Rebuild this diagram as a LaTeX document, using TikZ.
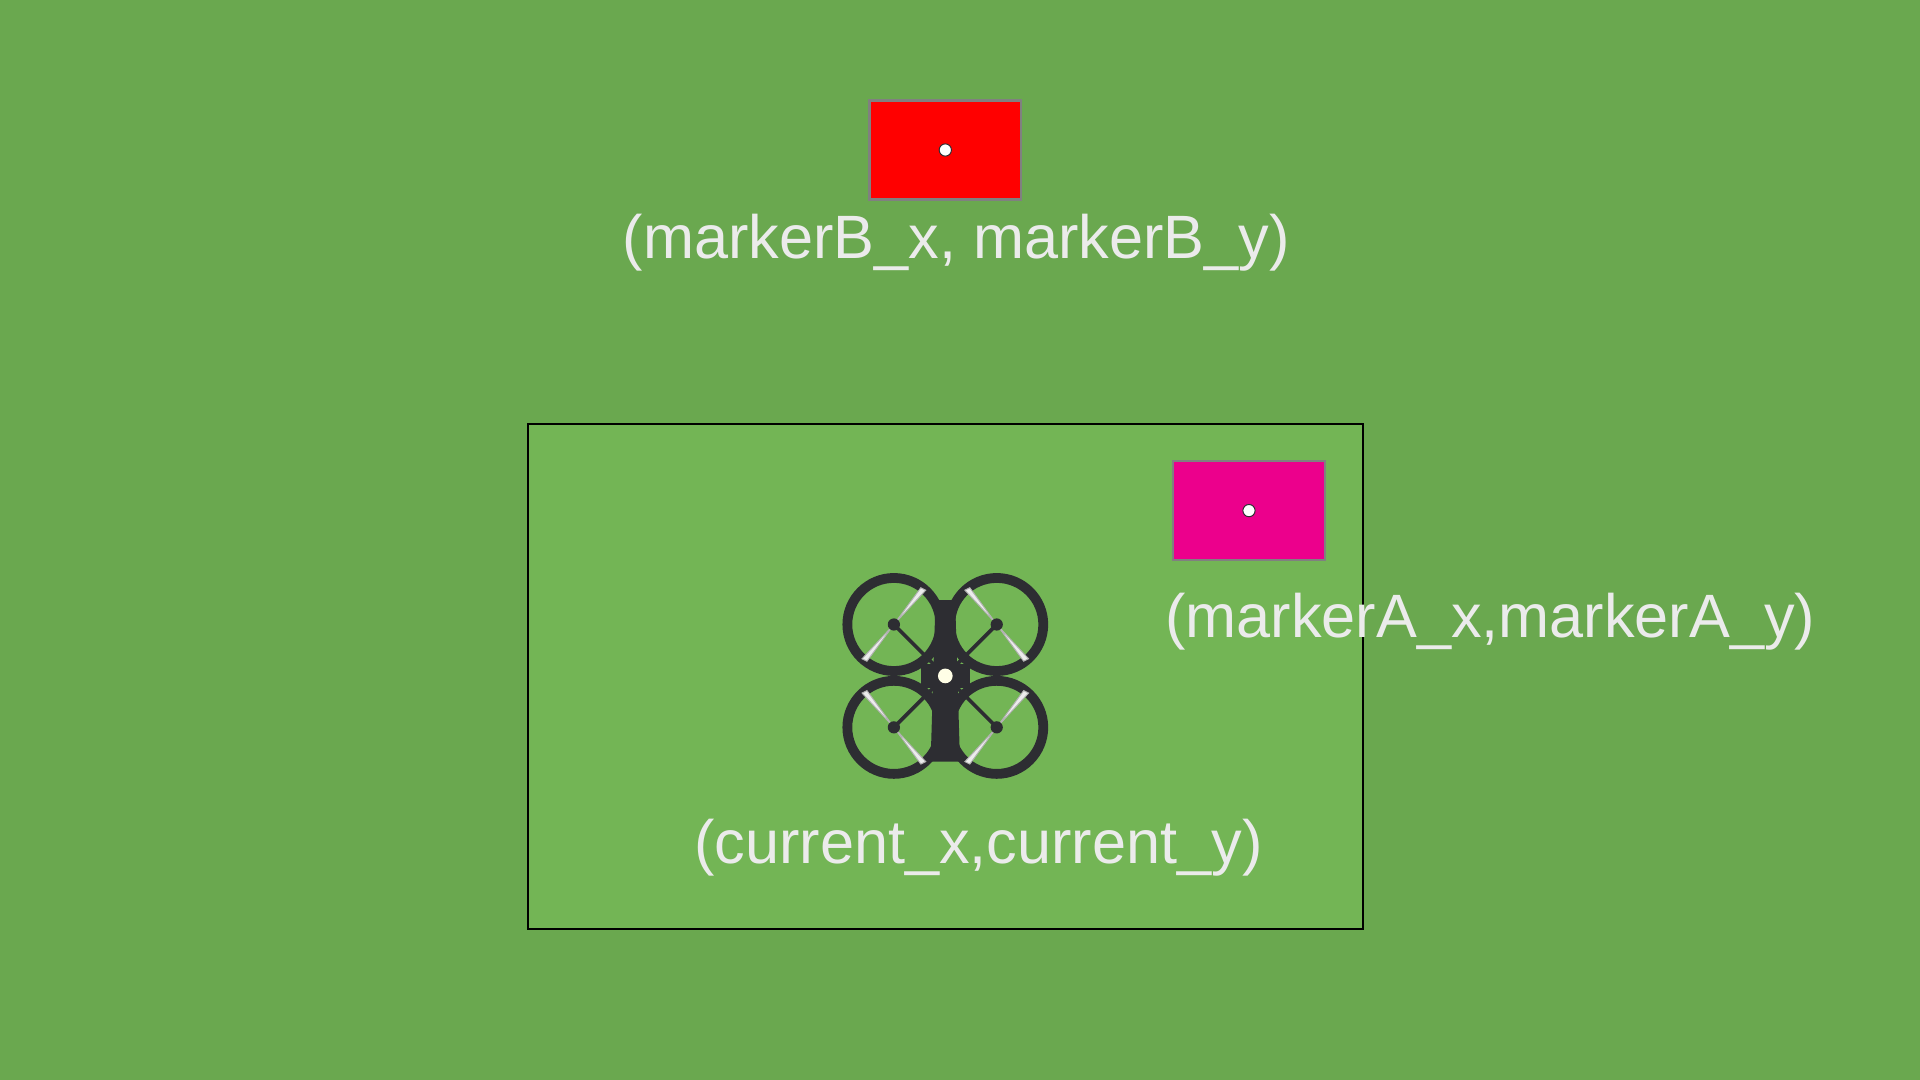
\documentclass[tikz,border=0pt]{standalone}
\usepackage{fontspec}
\setmainfont{Liberation Sans}
\definecolor{fieldgreen}{RGB}{106,168,79}
\definecolor{viewgreen}{RGB}{115,181,85}
\definecolor{labelgray}{RGB}{235,235,235}
\definecolor{dronegray}{RGB}{45,45,50}
\tikzset{
  marker/.style={draw=gray, line width=1pt, minimum width=62pt, minimum height=40.5pt, inner sep=0pt},
  dot/.style={circle, draw=dronegray, fill=white, minimum size=5pt, inner sep=0pt},
  coord/.style={text=labelgray, font=\fontsize{25}{30}\selectfont, inner sep=0pt},
  prop/.style={fill=white!85!gray, draw=gray!60}
}
\begin{document}
\begin{tikzpicture}[x=0.5pt,y=0.5pt,yscale=-1]
\fill[fieldgreen] (0,0) rectangle (1568,882);
\useasboundingbox (0,0) rectangle (1568,882);

% camera view
\draw[fill=viewgreen, line width=0.8pt] (431,346) rectangle (1113,759);

% marker B
\node[marker, fill=red] (mB) at (772,122.5) {};
\node[dot] (mBc) at (mB.center) {};
\node[coord] (lB) at (781,198) {(markerB\_x, markerB\_y)};

% marker A
\node[marker, fill=magenta] (mA) at (1020,417) {};
\node[dot] (mAc) at (mA.center) {};
\node[coord] (lA) at (1217,508) {(markerA\_x,markerA\_y)};

% drone
\coordinate (dr) at (772,552);
\begin{scope}[shift={(dr)}]
  \foreach \sx/\sy in {-1/-1,1/-1,-1/1,1/1}{
    \draw[dronegray, line width=4pt] (\sx*42,\sy*42) circle (38);
    \draw[dronegray, line width=1.5pt] (0,0) -- (\sx*42,\sy*42);
    \fill[prop] (\sx*42,\sy*42) -- ++(\sx*22,\sy*-30) -- ++(\sx*4,\sy*2) -- cycle;
    \fill[prop] (\sx*42,\sy*42) -- ++(\sx*-22,\sy*30) -- ++(\sx*-4,\sy*-2) -- cycle;
    \fill[dronegray] (\sx*42,\sy*42) circle (5);
  }
  \fill[dronegray] (-8,-62) -- (8,-62) -- (12,70) -- (-12,70) -- cycle;
  \fill[dronegray] (-20,-10) rectangle (20,10);
  \fill[white!90!yellow] (0,0) circle (6);
\end{scope}
\node[coord] (lC) at (799,692) {(current\_x,current\_y)};
\end{tikzpicture}
\end{document}
